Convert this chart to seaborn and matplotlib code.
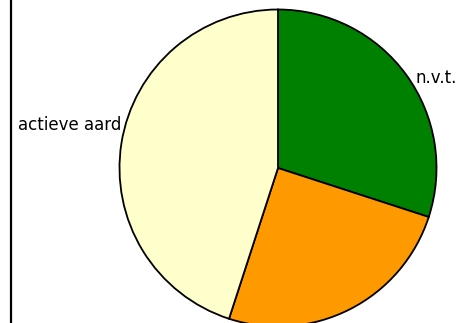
import matplotlib
matplotlib.use('Agg')
import matplotlib.pyplot as plt
import seaborn as sns

# --- Data ---
labels = ["n.v.t.", "", "actieve aard"]
values = [30, 25, 45]
colors = ["#008000", "#ff9900", "#ffffcc"]

sns.set_theme(style="white")
plt.rcParams['font.family'] = ['DejaVu Sans']

W, H = 471, 323
fig = plt.figure(figsize=(W / 100, H / 100), dpi=100)
fig.patch.set_facecolor("white")

# background axes, only the left border line is shown
bg = fig.add_axes([11 / W, 0, 1 - 11 / W, 1])
bg.set_xticks([])
bg.set_yticks([])
for side in ["top", "right", "bottom"]:
    bg.spines[side].set_visible(False)
bg.spines["left"].set_color("black")
bg.spines["left"].set_linewidth(1.6)
bg.patch.set_alpha(0)

# pie axes: centre ~(278,168) px, radius ~158 px
r = 158.5
ax = fig.add_axes([(278 - r) / W, (H - 168 - r) / H, 2 * r / W, 2 * r / H])
wedges, texts = ax.pie(values, labels=labels, colors=colors, startangle=90,
                       counterclock=False, labeldistance=1.05,
                       wedgeprops=dict(edgecolor="black", linewidth=1.3),
                       textprops=dict(fontsize=12, color="black"))
ax.set_xlim(-1, 1)
ax.set_ylim(-1, 1)
ax.set_aspect("equal")
ax.axis("off")

# nudge labels toward where the reference puts them
texts[0].set_position((0.87, 0.57))
texts[0].set_ha("left")
texts[2].set_position((-0.99, 0.27))
texts[2].set_ha("right")

plt.savefig("out.png", dpi=100)
plt.close()
